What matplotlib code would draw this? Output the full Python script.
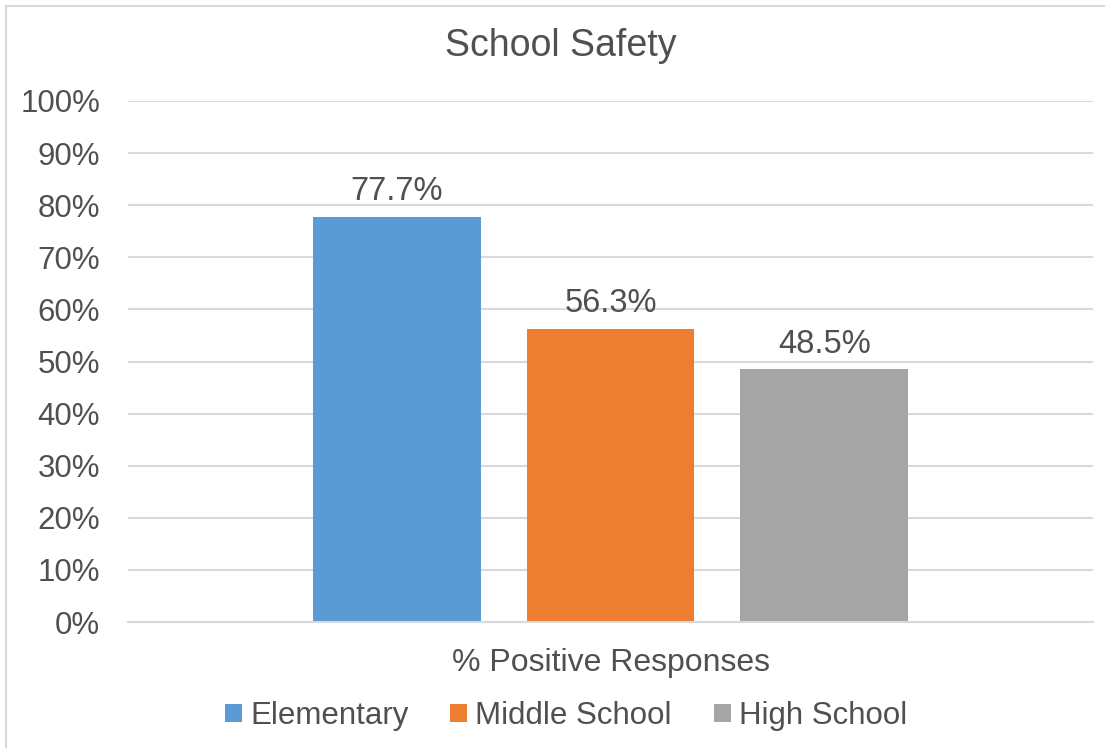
import matplotlib.pyplot as plt
from matplotlib.patches import Rectangle, Patch
import matplotlib.ticker as mticker

# --- data ---
category = "% Positive Responses"
schools = ["Elementary", "Middle School", "High School"]
pct = [77.7, 56.3, 48.5]
colors = ["#5B9BD5", "#ED7D31", "#A5A5A5"]

plt.rcParams['font.family'] = ['Liberation Sans', 'DejaVu Sans']
txt = "#505050"
grid = "#D9D9D9"

fig = plt.figure(figsize=(11.05, 7.48), dpi=100)
ax = fig.add_axes([128 / 1105, 1 - 622 / 748, 965 / 1105, 521 / 748])

# outer chart border (light gray)
fig.patches.append(Rectangle((5.5 / 1105, -0.01), 1.02, 1 - 5.5 / 748 + 0.01,
                             transform=fig.transFigure, fill=False,
                             edgecolor="#D9D9D9", lw=1.5))

# --- bars ---
step = 0.2216
width = 0.174
for i, (name, v, c) in enumerate(zip(schools, pct, colors)):
    x = 0.5 + (i - 1) * step
    ax.bar(x, v, width=width, color=c, label=name, zorder=3)
    ax.annotate(f"{v:.1f}%", (x, v), xytext=(0, 7), textcoords="offset points",
                ha="center", va="bottom", fontsize=23.5, color=txt)

# --- axes format ---
ax.set_xlim(0, 1)
ax.set_ylim(0, 100)
ax.yaxis.set_major_locator(mticker.MultipleLocator(10))
ax.yaxis.set_major_formatter(mticker.FuncFormatter(lambda v, p: f"{v:.0f}%"))
ax.set_xticks([0.5])
ax.set_xticklabels([category])
ax.tick_params(axis="y", length=0, pad=20, labelsize=22.5, labelcolor=txt)
ax.tick_params(axis="x", length=0, pad=19, labelsize=23, labelcolor=txt)
ax.grid(axis="y", color=grid, lw=1.5, zorder=0)
for s in ["top", "right", "left"]:
    ax.spines[s].set_visible(False)
ax.spines["bottom"].set_color(grid)
ax.spines["bottom"].set_linewidth(1.5)
ax.spines["bottom"].set_zorder(4)

fig.text(561 / 1105, 1 - 46 / 748, "School Safety", ha="center", va="center",
         fontsize=27, color=txt)

# --- legend ---
handles = [Patch(facecolor=c, label=n) for n, c in zip(schools, colors)]
fig.legend(handles=handles, loc="center", bbox_to_anchor=(566 / 1105, 1 - 716 / 748),
           ncol=3, frameon=False, fontsize=22.5, labelcolor=txt,
           handlelength=0.54, handleheight=0.54, handletextpad=0.26, columnspacing=1.34)

fig.savefig("out.png", dpi=100)
